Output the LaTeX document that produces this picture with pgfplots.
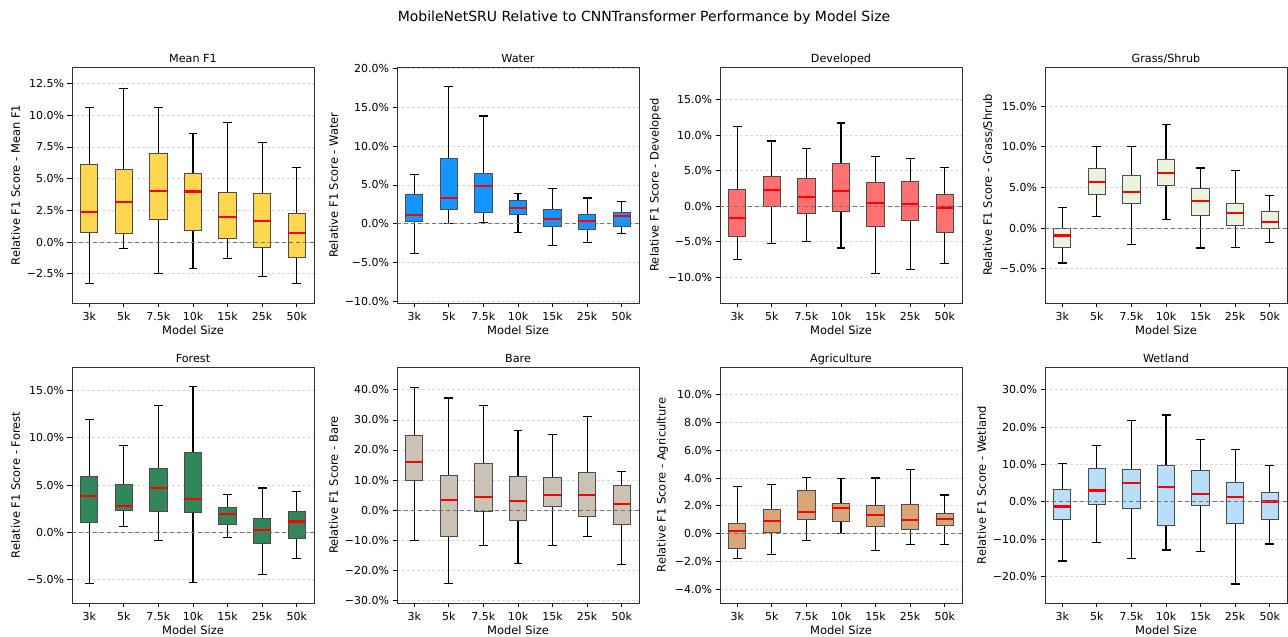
\documentclass[border=0pt]{standalone}
\usepackage{fontspec}
\setmainfont{DejaVu Sans}
\usepackage{pgfplots}
\usepackage{pgfplotstable}
\pgfplotsset{compat=1.18}
\usepgfplotslibrary{statistics}

\definecolor{cMean}{RGB}{255,214,80}
\definecolor{cWater}{RGB}{20,150,255}
\definecolor{cDev}{RGB}{255,112,112}
\definecolor{cGrass}{RGB}{234,243,222}
\definecolor{cForest}{RGB}{50,135,90}
\definecolor{cBare}{RGB}{203,194,182}
\definecolor{cAgri}{RGB}{215,165,120}
\definecolor{cWet}{RGB}{185,222,250}

\pgfplotstableread{
lw lq med uq uw
-3.26 0.78 2.40 6.15 10.63
-0.49 0.68 3.13 5.76 12.08
-2.50 1.80 4.01 7.00 10.63
-2.11 0.89 3.98 5.44 8.54
-1.30 0.29 1.98 3.93 9.45
-2.71 -0.42 1.69 3.80 7.87
-3.28 -1.20 0.73 2.27 5.91
}\tabMean
\pgfplotstableread{
lw lq med uq uw
-3.85 0.35 1.12 3.72 6.40
0.00 1.90 3.37 8.39 17.73
0.22 1.43 4.84 6.53 13.88
-1.08 1.21 2.03 2.94 3.89
-2.81 -0.39 0.61 1.86 4.58
-2.42 -0.69 0.35 1.21 3.33
-1.25 -0.39 0.99 1.43 2.85
}\tabWater
\pgfplotstableread{
lw lq med uq uw
-7.49 -4.31 -1.69 2.34 11.19
-5.24 0.00 2.25 4.17 9.18
-4.96 -1.08 1.31 3.84 8.15
-5.90 -0.75 2.11 5.99 11.70
-9.46 -2.90 0.47 3.28 6.98
-8.90 -1.97 0.33 3.46 6.74
-8.10 -3.75 -0.19 1.59 5.43
}\tabDev
\pgfplotstableread{
lw lq med uq uw
-4.29 -2.33 -0.90 0.00 2.57
1.39 4.12 5.63 7.31 10.08
-2.00 3.02 4.41 6.41 10.08
1.10 5.18 6.82 8.41 12.69
-2.45 1.55 3.35 4.82 7.39
-2.33 0.33 1.88 3.06 7.10
-1.80 -0.04 0.73 2.08 4.00
}\tabGrass
\pgfplotstableread{
lw lq med uq uw
-5.39 1.06 3.80 5.95 11.97
0.60 2.29 2.78 5.04 9.19
-0.88 2.15 4.72 6.76 13.38
-5.35 2.11 3.49 8.49 15.39
-0.60 0.85 1.94 2.61 3.98
-4.44 -1.20 0.21 1.41 4.68
-2.75 -0.70 1.13 2.22 4.30
}\tabForest
\pgfplotstableread{
lw lq med uq uw
-10.1 9.9 15.97 24.9 40.7
-24.4 -8.8 3.37 11.5 37.3
-11.9 -0.6 4.36 15.6 34.9
-17.8 -3.6 3.04 11.3 26.6
-11.7 1.27 5.1 10.9 25.2
-8.7 -2.27 5.0 12.5 31.0
-18.1 -4.8 2.04 8.34 12.8
}\tabBare
\pgfplotstableread{
lw lq med uq uw
-1.77 -1.05 0.17 0.74 3.37
-1.48 0.10 0.93 1.72 3.52
-0.48 0.98 1.53 3.09 4.07
0.00 0.89 1.82 2.18 3.97
-1.24 0.48 1.34 1.99 4.00
-0.77 0.33 0.96 2.08 4.62
-0.81 0.55 1.03 1.48 2.78
}\tabAgri
\pgfplotstableread{
lw lq med uq uw
-15.86 -4.72 -1.25 3.21 10.16
-10.87 -0.62 3.03 8.82 15.06
-15.24 -1.87 4.99 8.56 21.84
-12.92 -6.42 3.92 9.71 23.26
-13.28 -1.07 2.05 8.29 16.67
-22.00 -5.79 1.25 5.08 13.90
-11.32 -4.63 0.09 2.41 9.63
}\tabWet

\newcommand{\onebox}[3]{%
  \pgfplotstablegetelem{#2}{lw}\of#1\let\vlw\pgfplotsretval
  \pgfplotstablegetelem{#2}{lq}\of#1\let\vlq\pgfplotsretval
  \pgfplotstablegetelem{#2}{med}\of#1\let\vmed\pgfplotsretval
  \pgfplotstablegetelem{#2}{uq}\of#1\let\vuq\pgfplotsretval
  \pgfplotstablegetelem{#2}{uw}\of#1\let\vuw\pgfplotsretval
  \edef\doplot{\noexpand\addplot[boxplot/draw direction=y, boxplot prepared={draw position=#2, lower whisker=\vlw, lower quartile=\vlq, median=\vmed, upper quartile=\vuq, upper whisker=\vuw}, boxplot/every box/.style={draw=black!70, fill=#3, line width=1pt}] coordinates {};}%
  \doplot
}
\newcommand{\boxes}[2]{%
  \pgfplotsinvokeforeach{0,...,6}{\onebox{#1}{##1}{#2}}%
  \addplot[dashed, black!55, line width=1pt, dash pattern=on 4pt off 3pt] coordinates {(-0.5,0) (6.5,0)};
}

\pgfplotsset{
  panel/.style={
    scale only axis, width=242pt, height=236pt,
    anchor=south west,
    xmin=-0.5, xmax=6.5,
    xtick={0,1,2,3,4,5,6},
    xticklabels={3k,5k,7.5k,10k,15k,25k,50k},
    tick align=outside, major tick length=4.5pt,
    xtick pos=bottom, ytick pos=left,
    tick style={black, line width=0.8pt},
    axis line style={black!80, line width=0.9pt},
    ymajorgrids, grid style={black!15, dashed, dash pattern=on 3pt off 2pt, line width=0.7pt},
    tick label style={font=\fontsize{11}{12}\selectfont},
    xticklabel style={yshift=-1.5pt},
    label style={font=\fontsize{11.5}{13}\selectfont},
    title style={font=\fontsize{11.2}{13}\selectfont, at={(0.5,1)}, anchor=base, yshift=-2pt},
    xlabel={Model Size},
    xlabel style={yshift=2pt},
    yticklabel={\pgfmathsetmacro\tk{\tick}\ifdim\tk pt<-0.0001pt −\pgfmathsetmacro\tk{-\tk}\fi\pgfmathprintnumber[fixed,fixed zerofill,precision=1,assume math mode=true]{\tk}\%},
    boxplot/draw direction=y,
    boxplot/box extend=0.5,
    boxplot/whisker extend=0.26,
    boxplot/every whisker/.style={black, line width=1.15pt},
    boxplot/every median/.style={red, line width=2.2pt},
  }
}

\begin{document}
\begin{tikzpicture}
\useasboundingbox (0,0) rectangle (1288pt,637pt);
\node[font=\fontsize{14}{16}\selectfont] at (644pt,619pt) {MobileNetSRU Relative to CNNTransformer Performance by Model Size};

\begin{axis}[panel, at={(72pt,334pt)}, title={Mean F1}, ylabel={Relative F1 Score - Mean F1},
  ymin=-4.8, ymax=13.8, ytick={-2.5,0,2.5,5,7.5,10,12.5}]
\boxes{\tabMean}{cMean}
\end{axis}

\begin{axis}[panel, at={(397pt,334pt)}, title={Water}, ylabel={Relative F1 Score - Water},
  ymin=-10.2, ymax=20.2, ytick={-10,-5,0,5,10,15,20}]
\boxes{\tabWater}{cWater}
\end{axis}

\begin{axis}[panel, at={(720pt,334pt)}, title={Developed}, ylabel={Relative F1 Score - Developed},
  ymin=-13.65, ymax=19.6, ytick={-10,-5,0,5,10,15}]
\boxes{\tabDev}{cDev}
\end{axis}

\begin{axis}[panel, at={(1045pt,334pt)}, title={Grass/Shrub}, ylabel={Relative F1 Score - Grass/Shrub},
  ymin=-9.2, ymax=19.8, ytick={-5,0,5,10,15}]
\boxes{\tabGrass}{cGrass}
\end{axis}

\begin{axis}[panel, at={(72pt,34pt)}, title={Forest}, ylabel={Relative F1 Score - Forest},
  ymin=-7.5, ymax=17.5, ytick={-5,0,5,10,15}]
\boxes{\tabForest}{cForest}
\end{axis}

\begin{axis}[panel, at={(397pt,34pt)}, title={Bare}, ylabel={Relative F1 Score - Bare},
  ymin=-30.9, ymax=47.6, ytick={-30,-20,-10,0,10,20,30,40}]
\boxes{\tabBare}{cBare}
\end{axis}

\begin{axis}[panel, at={(720pt,34pt)}, title={Agriculture}, ylabel={Relative F1 Score - Agriculture},
  ymin=-5, ymax=12, ytick={-4,-2,0,2,4,6,8,10}]
\boxes{\tabAgri}{cAgri}
\end{axis}

\begin{axis}[panel, at={(1045pt,34pt)}, title={Wetland}, ylabel={Relative F1 Score - Wetland},
  ymin=-27.1, ymax=36.1, ytick={-20,-10,0,10,20,30}]
\boxes{\tabWet}{cWet}
\end{axis}
\end{tikzpicture}
\end{document}
